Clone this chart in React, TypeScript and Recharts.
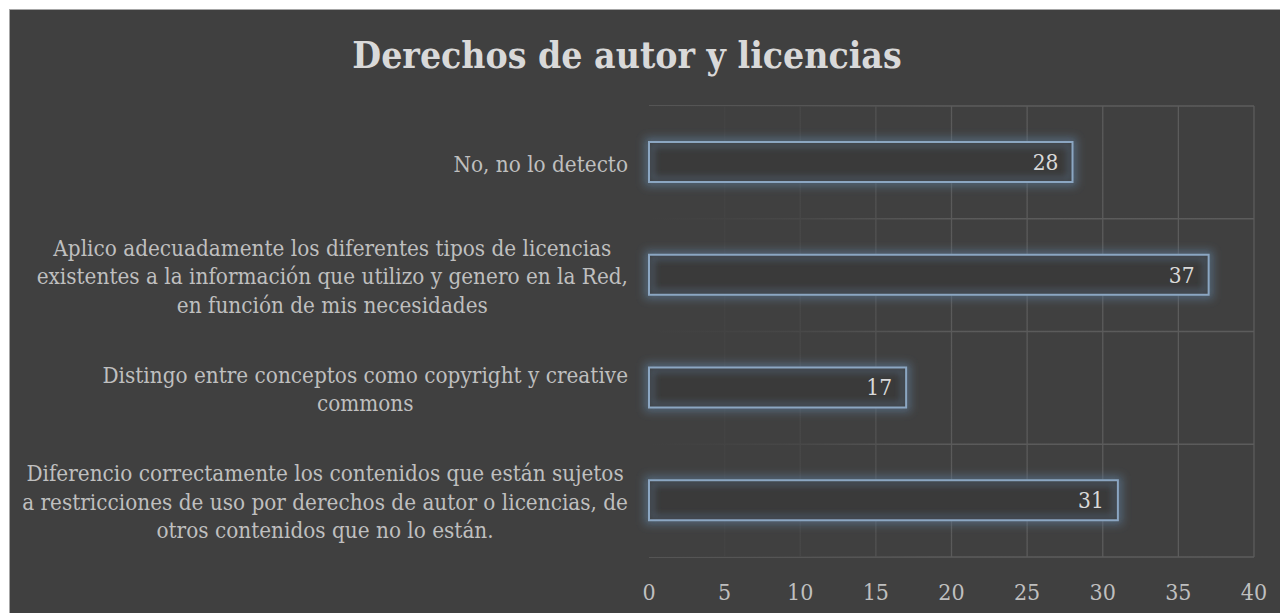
import React from 'react';
import { BarChart, Bar, XAxis, YAxis, CartesianGrid, ReferenceArea, LabelList } from 'recharts';

const chartTitle = 'Derechos de autor y licencias';

const categories = [
  'No, no lo detecto',
  'Aplico adecuadamente los diferentes tipos de licencias\nexistentes a la información que utilizo y genero en la Red,\nen función de mis necesidades',
  'Distingo entre conceptos como copyright y creative\ncommons',
  'Diferencio correctamente los contenidos que están sujetos\na restricciones de uso por derechos de autor o licencias, de\notros contenidos que no lo están.',
];

const values = [28, 37, 17, 31];

const xTicks = [0, 5, 10, 15, 20, 25, 30, 35, 40];

const data = categories.map((label, i) => ({ label, value: values[i] }));

const FONT = '"DejaVu Serif", serif';
const BG = '#404040';

const CategoryTick = (props: any) => {
  const { x, y, payload } = props;
  const lines = String(payload.value).split('\n');
  return (
    <foreignObject x={x - 21 - 700} y={y - 60} width={700} height={120}>
      <div
        style={{
          width: '100%',
          height: '100%',
          display: 'flex',
          alignItems: 'center',
          justifyContent: 'flex-end',
        }}
      >
        <div
          style={{
            textAlign: 'center',
            color: '#bfbfbf',
            fontFamily: FONT,
            fontStretch: 'condensed',
            fontSize: 22.3,
            lineHeight: '28.5px',
            whiteSpace: 'nowrap',
            marginTop: 3,
          }}
        >
          {lines.map((l, i) => (
            <div key={i}>{l}</div>
          ))}
        </div>
      </div>
    </foreignObject>
  );
};

const GlowBar = (props: any) => {
  const { x, y, width, height } = props;
  if (width == null || height == null) return null;
  return (
    <g>
      <rect x={x} y={y} width={width} height={height} fill="none" stroke="#5d7996" strokeWidth={9} strokeOpacity={0.6} filter="url(#barGlow)" />
      <rect x={x} y={y} width={width} height={height} fill="#3a3a3a" />
      <rect x={x + 3} y={y + 3} width={Math.max(0, width - 6)} height={Math.max(0, height - 6)} fill="none" stroke="#53657a" strokeWidth={5} strokeOpacity={0.6} filter="url(#innerGlow)" />
      <rect x={x} y={y} width={width} height={height} fill="none" stroke="#8ba6c2" strokeWidth={2} />
    </g>
  );
};

export default function App() {
  return (
    <div
      style={{
        position: 'absolute',
        left: 9,
        top: 9,
        width: 1270,
        height: 603,
        background: BG,
        borderTop: '1px solid #a6a6a6',
        borderLeft: '1px solid #a6a6a6',
        overflow: 'hidden',
      }}
    >
      <svg width={0} height={0} style={{ position: 'absolute' }}>
        <defs>
          <filter id="barGlow" x="-10%" y="-60%" width="120%" height="220%">
            <feGaussianBlur stdDeviation="4" />
          </filter>
          <filter id="innerGlow" x="-10%" y="-60%" width="120%" height="220%">
            <feGaussianBlur stdDeviation="3" />
          </filter>
          <linearGradient id="gridFade" x1="0" y1="0" x2="1" y2="0">
            <stop offset="0" stopColor={BG} stopOpacity={1} />
            <stop offset="0.125" stopColor={BG} stopOpacity={0.88} />
            <stop offset="0.25" stopColor={BG} stopOpacity={0.72} />
            <stop offset="0.375" stopColor={BG} stopOpacity={0.35} />
            <stop offset="0.5" stopColor={BG} stopOpacity={0.05} />
            <stop offset="1" stopColor={BG} stopOpacity={0} />
          </linearGradient>
        </defs>
      </svg>
      <div
        style={{
          position: 'absolute',
          left: 0,
          top: 23,
          width: 1234,
          textAlign: 'center',
          color: '#d9d9d9',
          fontFamily: FONT,
          fontStretch: 'condensed',
          fontWeight: 'bold',
          fontSize: 37,
          lineHeight: '44px',
        }}
      >
        {chartTitle}
      </div>
      <div style={{ position: 'absolute', left: 0, top: 0 }}>
        <BarChart
          width={1270}
          height={603}
          data={data}
          layout="vertical"
          margin={{ top: 96, right: 26, bottom: 6, left: 0 }}
          barCategoryGap={0}
        >
          <CartesianGrid
            stroke="#5c5c5c"
            strokeWidth={1.3}
            horizontalCoordinatesGenerator={({ offset }: any) =>
              Array.from({ length: categories.length + 1 }, (_, i) => offset.top + (offset.height * i) / categories.length)
            }
            verticalCoordinatesGenerator={({ offset }: any) =>
              xTicks.filter((t) => t > 0).map((t) => offset.left + (offset.width * t) / xTicks[xTicks.length - 1])
            }
          />
          <ReferenceArea x1={0} x2={40} fill="url(#gridFade)" fillOpacity={1} stroke="none" ifOverflow="visible" />
          <XAxis
            type="number"
            domain={[0, 40]}
            ticks={xTicks}
            axisLine={false}
            tickLine={false}
            tickSize={0}
            tickMargin={27}
            height={50}
            interval={0}
            tick={{ fill: '#bfbfbf', fontSize: 23, fontFamily: FONT, fontStretch: 'condensed' } as any}
          />
          <YAxis
            type="category"
            dataKey="label"
            width={639}
            axisLine={false}
            tickLine={false}
            tickSize={0}
            tickMargin={0}
            interval={0}
            tick={<CategoryTick />}
          />
          <Bar dataKey="value" barSize={40} shape={<GlowBar />} isAnimationActive={false}>
            <LabelList
              dataKey="value"
              position="insideRight"
              offset={14}
              fill="#d9d9d9"
              fontSize={22.5}
              fontFamily={FONT}
              style={{ fontStretch: 'condensed' } as any}
            />
          </Bar>
        </BarChart>
      </div>
    </div>
  );
}
